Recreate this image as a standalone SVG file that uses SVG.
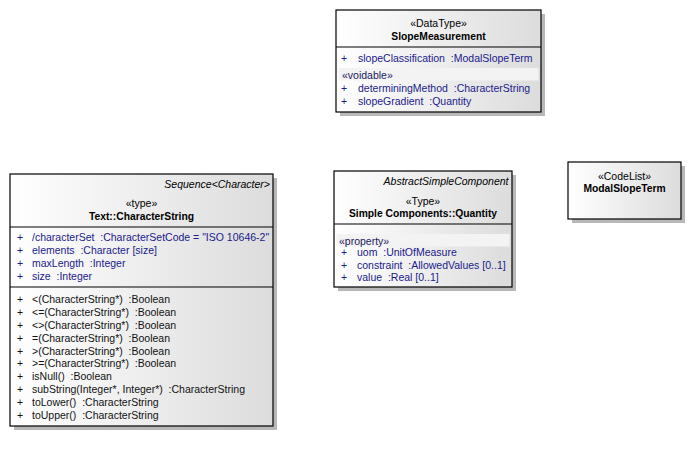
<svg xmlns="http://www.w3.org/2000/svg" width="693" height="456" viewBox="0 0 693 456">
  <defs>
    <linearGradient id="boxFill" x1="0" y1="0" x2="1" y2="0">
      <stop offset="0" stop-color="#ffffff"/>
      <stop offset="1" stop-color="#dcdcdc"/>
    </linearGradient>
    <style>
      .shadow { fill: #b8b8b8; }
      .box { fill: url(#boxFill); stroke: #000; stroke-width: 1.2; }
      .sep { stroke: #000; stroke-width: 1.2; }
      .band { fill: #f3f3f3; }
      text { font-family: "Liberation Sans", Arial, sans-serif; font-size: 10.5px; white-space: pre; }
      .ster { fill: #000; text-anchor: middle; }
      .name { fill: #000; font-weight: bold; text-anchor: middle; font-size: 10.3px; }
      .super { fill: #000; font-style: italic; text-anchor: end; }
      .attr { fill: #1a1a8c; }
      .grp { fill: #1a1a60; }
      .op { fill: #111; }
    </style>
  </defs>

  <!-- SlopeMeasurement data type -->
  <g id="SlopeMeasurement">
    <rect class="shadow" x="340" y="14" width="205" height="102"/>
    <rect class="box" x="336" y="10" width="205" height="102"/>
    <text class="ster" x="438.5" y="27">«DataType»</text>
    <text class="name" x="438.5" y="39.5">SlopeMeasurement</text>
    <line class="sep" x1="336" y1="47" x2="541" y2="47"/>
    <text class="attr" x="341" y="62">+</text>
    <text class="attr" x="358" y="62">slopeClassification  :ModalSlopeTerm</text>
    <rect class="band" x="338.5" y="68" width="200" height="12.5"/>
    <text class="grp" x="342" y="78.5">«voidable»</text>
    <text class="attr" x="341" y="92">+</text>
    <text class="attr" x="358" y="92">determiningMethod  :CharacterString</text>
    <text class="attr" x="341" y="104.5">+</text>
    <text class="attr" x="358" y="104.5">slopeGradient  :Quantity</text>
  </g>

  <!-- Text::CharacterString type -->
  <g id="CharacterString">
    <rect class="shadow" x="14" y="178" width="263" height="252"/>
    <rect class="box" x="10" y="174" width="263" height="252"/>
    <text class="super" x="270" y="188">Sequence&lt;Character&gt;</text>
    <text class="ster" x="141.5" y="207">«type»</text>
    <text class="name" x="141.5" y="219.5">Text::CharacterString</text>
    <line class="sep" x1="10" y1="227" x2="273" y2="227"/>
    <g class="attr">
      <text x="17" y="241">+</text><text x="32" y="241">/characterSet  :CharacterSetCode = "ISO 10646-2"</text>
      <text x="17" y="254">+</text><text x="32" y="254">elements  :Character [size]</text>
      <text x="17" y="267">+</text><text x="32" y="267">maxLength  :Integer</text>
      <text x="17" y="280">+</text><text x="32" y="280">size  :Integer</text>
    </g>
    <line class="sep" x1="10" y1="287" x2="273" y2="287"/>
    <g class="op">
      <text x="17" y="303">+</text><text x="32" y="303">&lt;(CharacterString*)  :Boolean</text>
      <text x="17" y="316">+</text><text x="32" y="316">&lt;=(CharacterString*)  :Boolean</text>
      <text x="17" y="329">+</text><text x="32" y="329">&lt;&gt;(CharacterString*)  :Boolean</text>
      <text x="17" y="341.5">+</text><text x="32" y="341.5">=(CharacterString*)  :Boolean</text>
      <text x="17" y="354.5">+</text><text x="32" y="354.5">&gt;(CharacterString*)  :Boolean</text>
      <text x="17" y="367">+</text><text x="32" y="367">&gt;=(CharacterString*)  :Boolean</text>
      <text x="17" y="380">+</text><text x="32" y="380">isNull()  :Boolean</text>
      <text x="17" y="393">+</text><text x="32" y="393">subString(Integer*, Integer*)  :CharacterString</text>
      <text x="17" y="406">+</text><text x="32" y="406">toLower()  :CharacterString</text>
      <text x="17" y="419">+</text><text x="32" y="419">toUpper()  :CharacterString</text>
    </g>
  </g>

  <!-- Simple Components::Quantity type -->
  <g id="Quantity">
    <rect class="shadow" x="338" y="175" width="178" height="116"/>
    <rect class="box" x="334" y="171" width="178" height="116"/>
    <text class="super" x="508.5" y="185">AbstractSimpleComponent</text>
    <text class="ster" x="423" y="204.5">«Type»</text>
    <text class="name" x="423" y="217">Simple Components::Quantity</text>
    <line class="sep" x1="334" y1="224" x2="512" y2="224"/>
    <rect class="band" x="336.5" y="234" width="173" height="12.5"/>
    <text class="grp" x="339" y="244.5">«property»</text>
    <g class="attr">
      <text x="341" y="256">+</text><text x="357" y="256">uom  :UnitOfMeasure</text>
      <text x="341" y="268.5">+</text><text x="357" y="268.5">constraint  :AllowedValues [0..1]</text>
      <text x="341" y="281">+</text><text x="357" y="281">value  :Real [0..1]</text>
    </g>
  </g>

  <!-- ModalSlopeTerm code list -->
  <g id="ModalSlopeTerm">
    <rect class="shadow" x="572" y="166" width="113" height="57"/>
    <rect class="box" x="568" y="162" width="113" height="57"/>
    <text class="ster" x="624.5" y="179.5">«CodeList»</text>
    <text class="name" x="624.5" y="192">ModalSlopeTerm</text>
  </g>

  <!-- no connectors between these classifiers -->
  <g id="connectors"/>
</svg>
